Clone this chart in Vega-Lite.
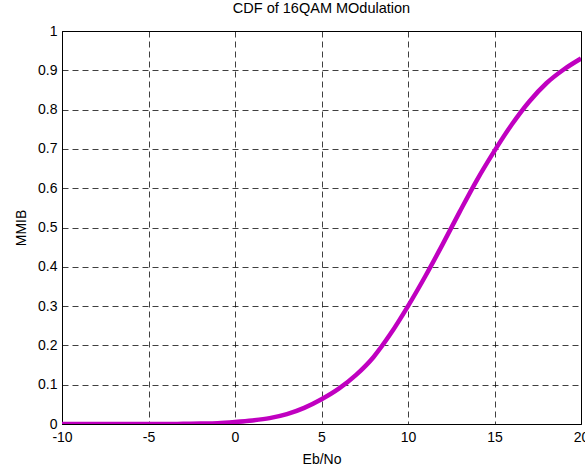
{
  "$schema": "https://vega.github.io/schema/vega-lite/v6.json",
  "autosize": "none",
  "width": 519,
  "height": 393,
  "padding": {"left": 62, "top": 31, "right": 4, "bottom": 43},
  "background": "white",
  "title": {"text": "CDF of 16QAM MOdulation", "font": "Liberation Sans", "fontSize": 14.5, "fontWeight": "normal", "color": "black", "offset": 8},
  "config": {
    "view": {"stroke": "black", "strokeWidth": 1},
    "axis": {
      "labelFont": "Liberation Sans", "labelFontSize": 14, "labelColor": "black",
      "titleFont": "Liberation Sans", "titleFontSize": 14, "titleFontWeight": "normal", "titleColor": "black",
      "domainColor": "black", "tickSize": 0, "gridColor": "black", "gridOpacity": 0.75, "gridDash": [6, 4], "gridWidth": 1
    }
  },
  "data": {"values": [
    {"x": -10, "y": 0}, {"x": -8, "y": 0}, {"x": -6, "y": 0}, {"x": -4, "y": 0}, {"x": -3, "y": 0.0005},
    {"x": -2, "y": 0.001}, {"x": -1, "y": 0.002}, {"x": 0, "y": 0.005}, {"x": 1, "y": 0.009},
    {"x": 2, "y": 0.015}, {"x": 3, "y": 0.025}, {"x": 4, "y": 0.041}, {"x": 5, "y": 0.063},
    {"x": 6, "y": 0.09}, {"x": 7, "y": 0.125}, {"x": 8, "y": 0.17}, {"x": 9, "y": 0.23},
    {"x": 10, "y": 0.3}, {"x": 11, "y": 0.376}, {"x": 12, "y": 0.457}, {"x": 13, "y": 0.541},
    {"x": 14, "y": 0.622}, {"x": 15, "y": 0.695}, {"x": 16, "y": 0.762}, {"x": 17, "y": 0.82},
    {"x": 18, "y": 0.867}, {"x": 19, "y": 0.902}, {"x": 20, "y": 0.93}
  ]},
  "mark": {"type": "line", "color": "#C000C0", "strokeWidth": 4.5, "interpolate": "monotone", "clip": true},
  "encoding": {
    "x": {"field": "x", "type": "quantitative", "scale": {"domain": [-10, 20], "nice": false, "zero": false},
      "axis": {"title": "Eb/No", "values": [-10, -5, 0, 5, 10, 15, 20], "labelExpr": "toString(datum.value)", "labelPadding": 6, "titlePadding": 8, "labelFlush": false}},
    "y": {"field": "y", "type": "quantitative", "scale": {"domain": [0, 1], "nice": false},
      "axis": {"title": "MMIB", "values": [0, 0.1, 0.2, 0.3, 0.4, 0.5, 0.6, 0.7, 0.8, 0.9, 1], "labelPadding": 5, "titlePadding": 9, "labelFlush": false, "labelExpr": "toString(datum.value)"}}
  }
}
